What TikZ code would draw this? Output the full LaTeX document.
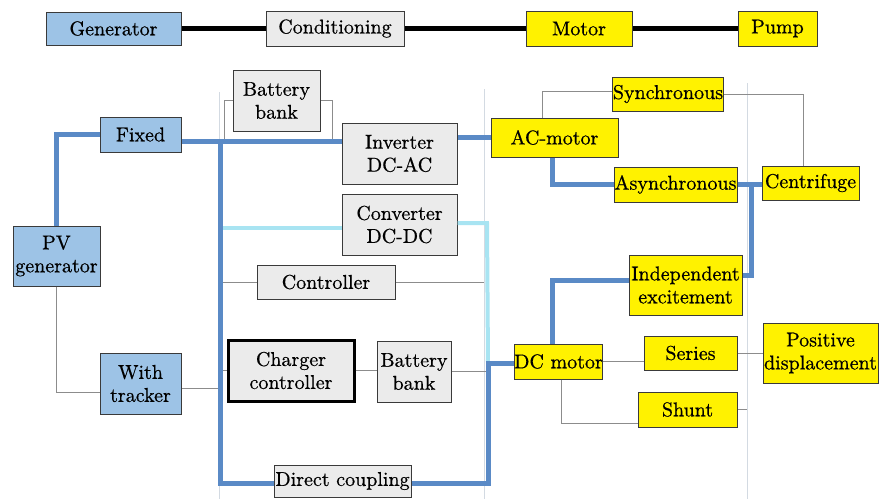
\documentclass[tikz,border=0pt]{standalone}
\usepackage{fontspec}
\newfontfamily\serfont{lmroman10-regular.otf}[FakeBold=0.6]
\definecolor{boxblue}{HTML}{9DC3E6}
\definecolor{boxgray}{HTML}{EBEBEB}
\definecolor{boxborder}{HTML}{3A3A3A}
\definecolor{busblue}{HTML}{5A8AC6}
\definecolor{cyanline}{HTML}{A8E4F2}
\definecolor{thingray}{HTML}{8C8C8C}
\definecolor{divider}{HTML}{D3DAE2}
\tikzset{
  box/.style={draw=boxborder, line width=1pt, inner sep=0pt, align=center, font=\serfont\fontsize{20}{23}\selectfont},
  bluebox/.style={box, fill=boxblue},
  graybox/.style={box, fill=boxgray},
  yelbox/.style={box, fill=yellow},
  topline/.style={line width=5pt, black},
  busline/.style={line width=5pt, busblue},
  cyline/.style={line width=4pt, cyanline},
  thinline/.style={line width=0.9pt, thingray},
  divline/.style={line width=0.9pt, divider},
}
\begin{document}
\begin{tikzpicture}[x=1pt, y=-1pt]
\useasboundingbox[fill=white] (0,0) rectangle (879,499);

% faint dividers
\coordinate (d1t) at (219,92);  \coordinate (d1b) at (219,499);
\coordinate (d2t) at (484,89);  \coordinate (d2b) at (484,499);
\coordinate (d3t) at (747,83);  \coordinate (d3b) at (747,499);
\draw[divline] (d1t) -- (d1b);
\draw[divline] (d2t) -- (d2b);
\draw[divline] (d3t) -- (d3b);

% junction coordinates
\coordinate (busTop) at (220,141);
\coordinate (busBot) at (220,483);
\coordinate (dcj) at (488,363);
\coordinate (cyj) at (487,223);
\coordinate (cyl) at (220,228);
\coordinate (cj) at (751,184.5);
\coordinate (b1l) at (224,141);
\coordinate (b1r) at (332,141);

% top row
\node[bluebox, minimum width=135pt, minimum height=33pt] (gen) at (113.5,28.5) {Generator};
\node[graybox, minimum width=138pt, minimum height=35pt] (cond) at (335,28.5) {Conditioning};
\node[yelbox, minimum width=106pt, minimum height=35pt] (motor) at (579,28.5) {Motor};
\node[yelbox, minimum width=79pt, minimum height=35pt] (pump) at (777.5,28.5) {Pump};
\draw[topline] (gen.east) -- (cond.west);
\draw[topline] (cond.east) -- (motor.west);
\draw[topline] (motor.east) -- (pump.west);

% left nodes
\node[bluebox, minimum width=81pt, minimum height=35pt] (fixed) at (140.5,134.5) {Fixed};
\node[bluebox, minimum width=87pt, minimum height=60pt] (pv) at (56.5,256) {PV\\generator};
\node[bluebox, minimum width=81pt, minimum height=61pt] (track) at (140.5,383.5) {With\\tracker};

% middle nodes
\node[graybox, minimum width=87pt, minimum height=61pt] (bat1) at (276.5,100.5) {Battery\\bank};
\node[graybox, minimum width=115pt, minimum height=61pt] (inv) at (399.5,153.5) {Inverter\\DC-AC};
\node[graybox, minimum width=115pt, minimum height=61pt] (conv) at (399.5,224.5) {Converter\\DC-DC};
\node[graybox, minimum width=138pt, minimum height=34pt] (ctrl) at (326,282) {Controller};
\node[graybox, line width=3pt, draw=black, minimum width=126pt, minimum height=61pt] (charg) at (291,370.5) {Charger\\controller};
\node[graybox, minimum width=74pt, minimum height=61pt] (bat2) at (414,371.5) {Battery\\bank};
\node[graybox, minimum width=137pt, minimum height=32pt] (direct) at (342.5,481) {Direct coupling};

% right nodes
\node[yelbox, minimum width=127pt, minimum height=39pt] (acm) at (554.5,137.5) {AC-motor};
\node[yelbox, minimum width=110pt, minimum height=34pt] (sync) at (668,94) {Synchronous};
\node[yelbox, minimum width=123pt, minimum height=35pt] (async) at (675.5,184.5) {Asynchronous};
\node[yelbox, minimum width=97pt, minimum height=34pt] (centr) at (810.5,183) {Centrifuge};
\node[yelbox, minimum width=113pt, minimum height=60pt] (indep) at (685.5,285) {Independent\\excitement};
\node[yelbox, minimum width=87pt, minimum height=35pt] (dcm) at (558.5,361.5) {DC motor};
\node[yelbox, minimum width=93pt, minimum height=34pt] (series) at (690.5,353) {Series};
\node[yelbox, minimum width=115pt, minimum height=60pt] (posd) at (820.5,353) {Positive\\displacement};
\node[yelbox, minimum width=99pt, minimum height=35pt] (shunt) at (687.5,409.5) {Shunt};

% thin gray connectors
\draw[thinline] (bat1.west) -| (b1l);
\draw[thinline] (bat1.east) -| (b1r);
\draw[thinline] (ctrl.west -| busTop) -- (ctrl.west);
\draw[thinline] (ctrl.east) -- (ctrl.east -| d2t);
\draw[thinline] (charg.west -| busTop) -- (charg.west);
\draw[thinline] (charg.east) -- (charg.east -| bat2.west);
\draw[thinline] (bat2.east) -- (bat2.east -| cyj);
\draw[thinline] (pv.south) |- ([yshift=-8.5pt]track.west);
\draw[thinline] ([yshift=-4.5pt]track.east) -- ([yshift=-4.5pt]track.east -| busTop);
\draw[thinline] ([xshift=-12.5pt]acm.north) |- ([yshift=3pt]sync.west);
\draw[thinline] (sync.east) -| ([xshift=-7.5pt]centr.north);
\draw[thinline] (dcm.east) -- (series.west |- dcm.east);
\draw[thinline] (series.east) -- (posd.west);
\draw[thinline] ([xshift=2.5pt]dcm.south) |- ([yshift=-13.5pt]shunt.west);
\draw[thinline] (shunt.east) -- (shunt.east -| d3t);

% cyan connectors
\draw[cyline] (cyl) -- (conv.west |- cyl);
\draw[cyline] (conv.east |- cyj) -- (cyj) -- (dcj);

% blue bus connectors
\draw[busline] (fixed.west) -| (pv.north);
\draw[busline] (fixed.east |- busTop) -- (inv.west |- busTop);
\draw[busline] (busTop) -- (busBot) -- (direct.west |- busBot);
\draw[busline] (direct.east |- busBot) -| (dcj) -- (dcm.west |- dcj);
\draw[busline] (inv.east |- acm.west) -- (acm.west);
\draw[busline] ([xshift=-2.5pt]acm.south) |- (async.west);
\draw[busline] (async.east) -- (centr.west |- async.east);
\draw[busline] (cj) |- ([yshift=10pt]indep.east);
\draw[busline] ([xshift=-6.5pt]dcm.north) |- ([yshift=5pt]indep.west);
\end{tikzpicture}
\end{document}
